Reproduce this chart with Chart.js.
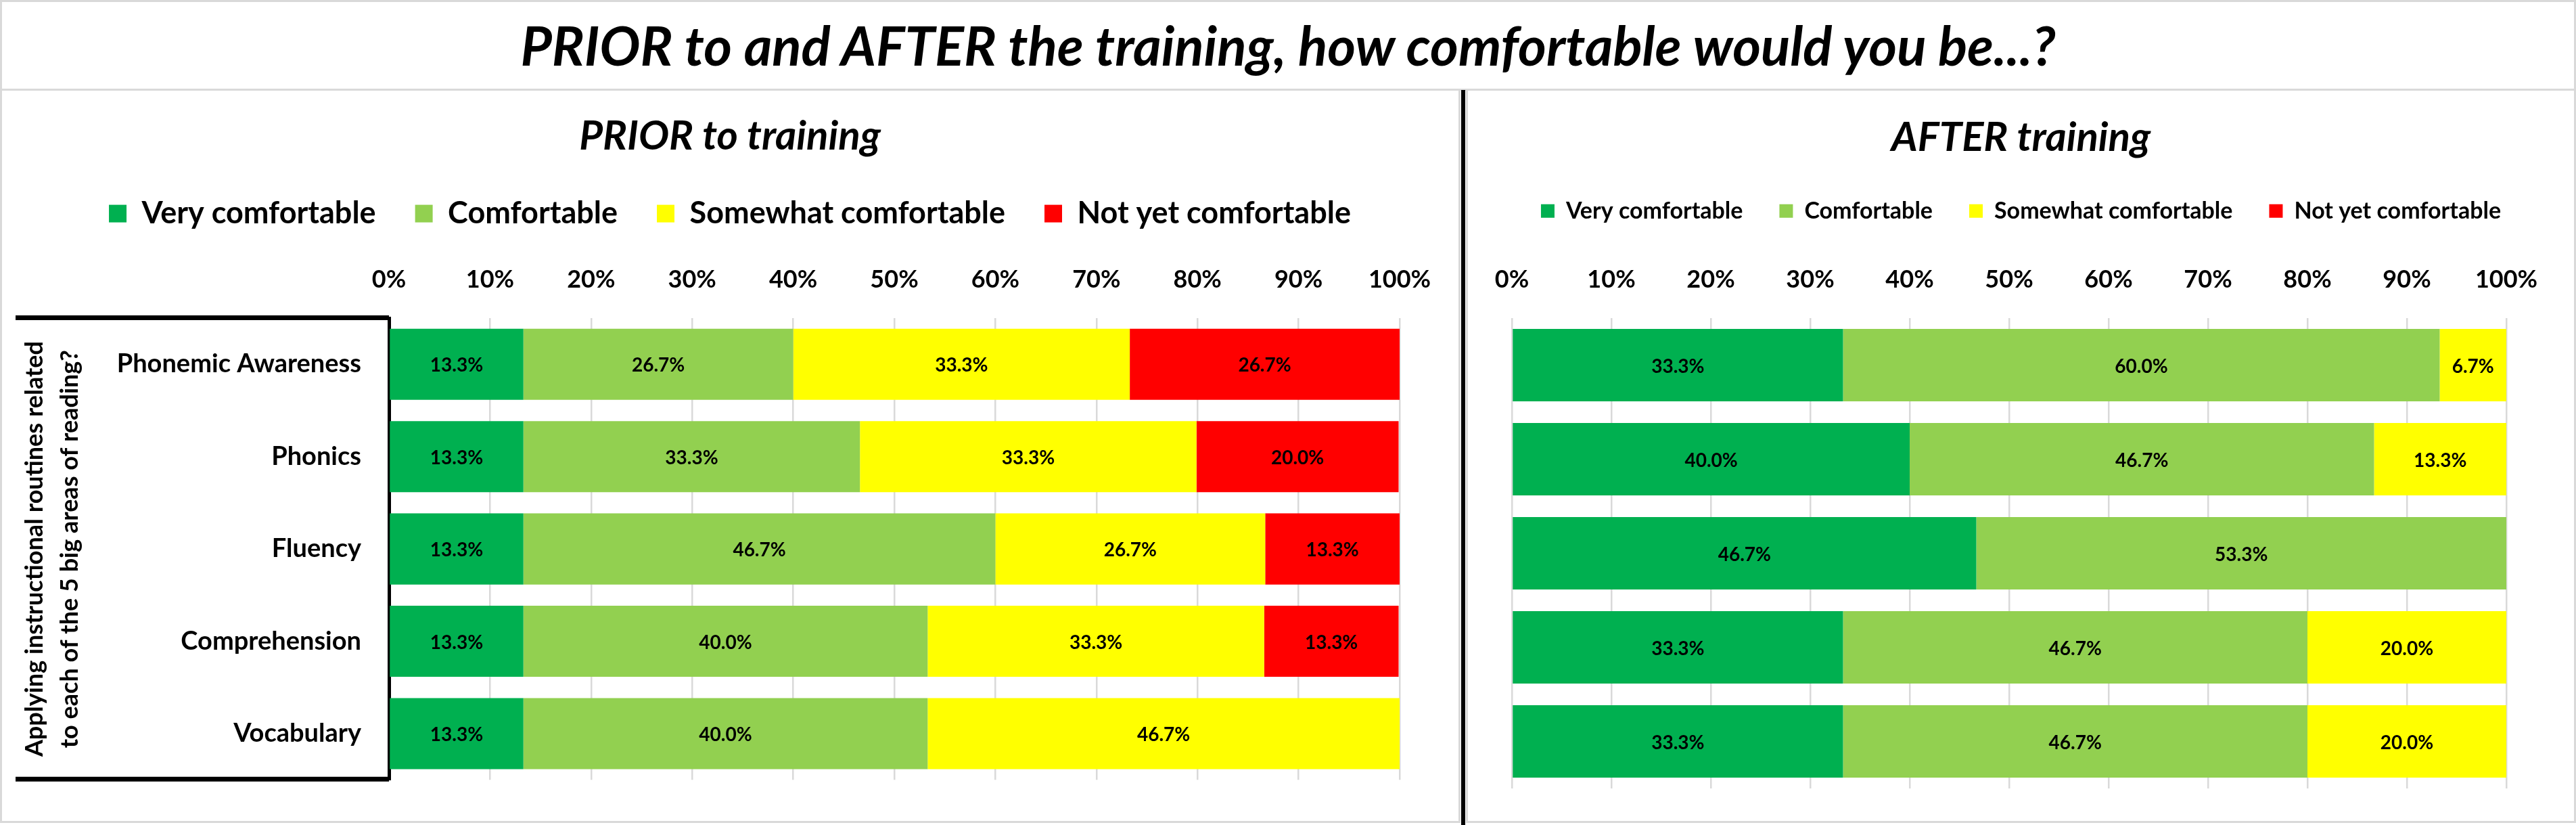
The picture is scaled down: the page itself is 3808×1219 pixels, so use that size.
<!DOCTYPE html>
<html>
<head>
<meta charset="utf-8">
<script src="https://cdn.jsdelivr.net/npm/chart.js@4.4.1/dist/chart.umd.min.js"></script>
<style>
  html, body { margin: 0; padding: 0; background: #fff; }
  body { width: 3808px; height: 1219px; position: relative; overflow: hidden; }
  .frame { position: absolute; box-sizing: border-box; border: 3px solid #d9d9d9; pointer-events: none; }
  .panel { position: absolute; }
  #title {
    position: absolute; left: 0; top: 26px; width: 3808px; text-align: center;
    font: italic bold 80px/1 Lato, sans-serif; color: #000; white-space: nowrap;
  }
  #divider { position: absolute; left: 2160px; top: 133px; width: 6px; height: 1086px; background: #000; }
</style>
</head>
<body>
<div class="frame" style="left:0;top:0;width:3808px;height:134px"></div>
<div id="title">PRIOR to and AFTER the training, how comfortable would you be...?</div>
<div class="panel" style="left:0;top:133px;width:2158px;height:1083px"><canvas id="prior"></canvas></div>
<div class="panel" style="left:2167px;top:133px;width:1641px;height:1083px"><canvas id="after"></canvas></div>
<div class="frame" style="left:0;top:131px;width:2159px;height:1085px"></div>
<div class="frame" style="left:2167px;top:131px;width:1641px;height:1085px"></div>
<div id="divider"></div>

<script>
const categories = ["Phonemic Awareness", "Phonics", "Fluency", "Comprehension", "Vocabulary"];
const levels = ["Very comfortable", "Comfortable", "Somewhat comfortable", "Not yet comfortable"];
const levelColors = ["#00B050", "#92D050", "#FFFF00", "#FF0000"];
const tickValues = [0, 10, 20, 30, 40, 50, 60, 70, 80, 90, 100];
const questionText = ["Applying instructional routines related", "to each of the 5 big areas of reading?"];

// PRIOR to training (% of respondents)
const priorVery = [13.3, 13.3, 13.3, 13.3, 13.3];
const priorComf = [26.7, 33.3, 46.7, 40.0, 40.0];
const priorSome = [33.3, 33.3, 26.7, 33.3, 46.7];
const priorNotYet = [26.7, 20.0, 13.3, 13.3, 0];

// AFTER training
const afterVery = [33.3, 40.0, 46.7, 33.3, 33.3];
const afterComf = [60.0, 46.7, 53.3, 46.7, 46.7];
const afterSome = [6.7, 13.3, 0, 20.0, 20.0];
const afterNotYet = [0, 0, 0, 0, 0];

const AREA_TOP = 337; // top of the plot area inside each canvas

Chart.defaults.font.family = "Lato";
Chart.defaults.color = "#000";

// percentage written in the middle of each segment
const barLabels = {
  id: "barLabels",
  afterDatasetsDraw(chart) {
    const ctx = chart.ctx;
    ctx.save();
    ctx.font = "bold 28px Lato";
    ctx.fillStyle = "#000";
    ctx.textAlign = "center";
    ctx.textBaseline = "middle";
    chart.data.datasets.forEach((ds, i) => {
      chart.getDatasetMeta(i).data.forEach((bar, j) => {
        const v = ds.data[j];
        if (!v) return;
        ctx.fillText(v.toFixed(1) + "%", (bar.x + bar.base) / 2, bar.y + 2);
      });
    });
    ctx.restore();
  }
};

// title + legend span the whole panel (legend stays on one row, centred)
const headerLayout = {
  id: "headerLayout",
  afterInit(chart) {
    const legend = chart.legend;
    const fit = legend.fit;
    legend.fit = function () {
      this.maxWidth = chart.width;
      fit.call(this);
    };
  },
  afterLayout(chart) {
    [chart.titleBlock, chart.legend].forEach((box) => {
      box.left = 0;
      box.right = chart.width;
      box.width = chart.width;
    });
  }
};

// black lines closing the question box on the left
const questionBox = {
  id: "questionBox",
  afterDraw(chart) {
    const { ctx, chartArea } = chart;
    ctx.save();
    ctx.strokeStyle = "#000";
    ctx.lineWidth = 7;
    ctx.beginPath();
    ctx.moveTo(23, chartArea.top - 0.5);
    ctx.lineTo(chartArea.left, chartArea.top - 0.5);
    ctx.moveTo(23, chartArea.bottom - 1);
    ctx.lineTo(chartArea.left, chartArea.bottom - 1);
    ctx.stroke();
    ctx.restore();
  }
};

function makeDatasets(series) {
  return series.map((data, i) => ({
    label: levels[i],
    data: data,
    backgroundColor: levelColors[i],
    borderWidth: 0,
    categoryPercentage: 0.77,
    barPercentage: 1,
  }));
}

function xScale() {
  return {
    position: "top",
    stacked: true,
    min: 0,
    max: 100,
    afterBuildTicks: (s) => { s.ticks = tickValues.map((v) => ({ value: v })); },
    ticks: {
      callback: (v) => v + "%",
      font: { size: 36, weight: "bold" },
      padding: 35,
      maxRotation: 0,
      autoSkip: false,
    },
    grid: { color: "#d9d9d9", lineWidth: 2.5, drawTicks: false },
    border: { display: false },
    afterFit: (s) => {
      s.height = AREA_TOP - s.chart.titleBlock.height - s.chart.legend.height;
    },
  };
}

function titleOpts(text, lineHeight, top) {
  return {
    display: true,
    text: text,
    font: { size: 60, weight: "bold", style: "italic", lineHeight: lineHeight },
    padding: { top: top, bottom: 0 },
  };
}

new Chart(document.getElementById("prior"), {
  type: "bar",
  data: {
    labels: categories,
    datasets: makeDatasets([priorVery, priorComf, priorSome, priorNotYet]),
  },
  options: {
    indexAxis: "y",
    responsive: true,
    maintainAspectRatio: false,
    animation: false,
    layout: { padding: { left: 0, right: 89, top: 0, bottom: 51 } },
    plugins: {
      title: titleOpts("PRIOR to training", "66.6px", 35.5),
      legend: {
        position: "top",
        labels: { boxWidth: 26, boxHeight: 26, padding: 58, font: { size: 45, weight: "bold" } },
      },
      tooltip: { enabled: false },
    },
    scales: {
      x: xScale(),
      y: {
        stacked: true,
        ticks: { font: { size: 38, weight: "bold" }, padding: 41 },
        grid: { display: false, drawTicks: false },
        border: { display: true, color: "#000", width: 5 },
        title: {
          display: true,
          text: questionText,
          font: { size: 36, weight: "bold", lineHeight: 1.45 },
          padding: { top: 25, bottom: 0 },
        },
        afterFit: (s) => { s.width = 575; },
      },
    },
  },
  plugins: [barLabels, headerLayout, questionBox],
});

new Chart(document.getElementById("after"), {
  type: "bar",
  data: {
    labels: categories,
    datasets: makeDatasets([afterVery, afterComf, afterSome, afterNotYet]),
  },
  options: {
    indexAxis: "y",
    responsive: true,
    maintainAspectRatio: false,
    animation: false,
    layout: { padding: { left: 68, right: 103, top: 0, bottom: 51 } },
    plugins: {
      title: titleOpts("AFTER training", "74px", 33.8),
      legend: {
        position: "top",
        labels: { boxWidth: 20, boxHeight: 20, padding: 54, font: { size: 34, weight: "bold" } },
      },
      tooltip: { enabled: false },
    },
    scales: {
      x: xScale(),
      y: { stacked: true, display: false },
    },
  },
  plugins: [barLabels, headerLayout],
});
</script>
</body>
</html>
